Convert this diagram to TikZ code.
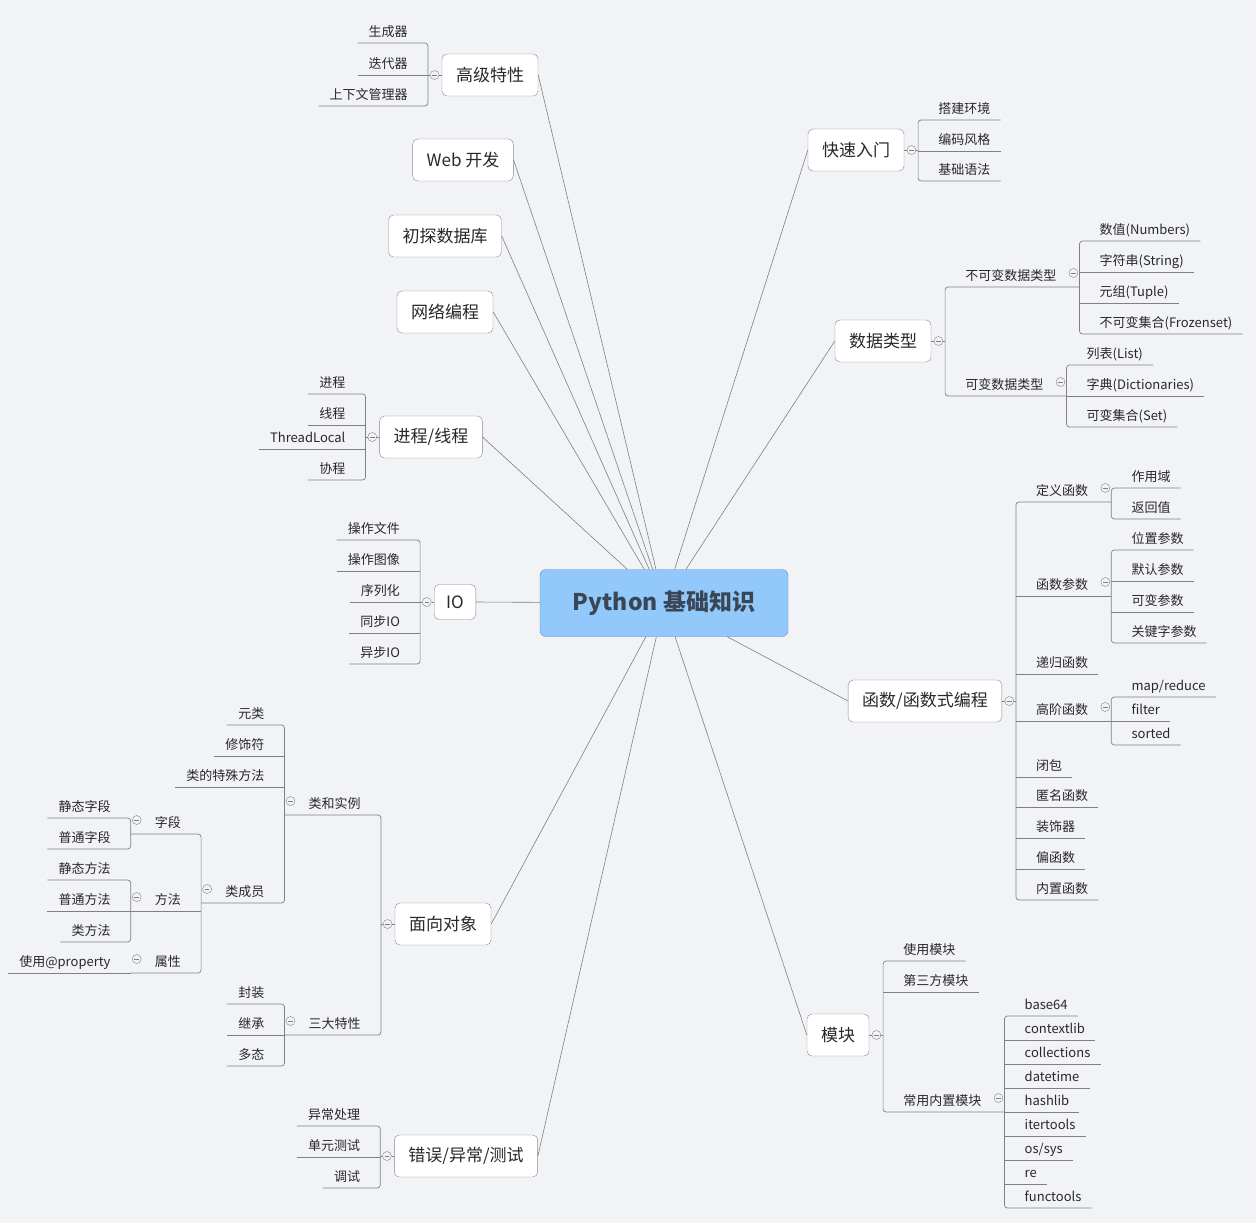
\documentclass[tikz,border=0pt]{standalone}
\usepackage{fontspec}
\setmainfont{Noto Sans CJK SC}
\usetikzlibrary{positioning}
\definecolor{bgcol}{RGB}{242,243,247}
\definecolor{linecol}{RGB}{128,128,128}
\definecolor{boxline}{RGB}{138,138,138}
\definecolor{rootfill}{RGB}{146,201,250}
\definecolor{rootline}{RGB}{98,138,178}
\definecolor{roottext}{RGB}{58,70,86}
\definecolor{txt}{RGB}{40,40,40}

\begin{document}
\begin{tikzpicture}[x=1pt,y=-1pt,
  root/.style={rectangle,rounded corners=6pt,draw=rootline,fill=rootfill,text=roottext,
    font=\fontsize{23}{26}\selectfont\bfseries,minimum width=248pt,minimum height=67pt},
  topic/.style={rectangle,rounded corners=5pt,draw=boxline,fill=white,text=txt,
    font=\fontsize{17}{20}\selectfont,minimum height=42pt,inner xsep=14pt},
  coll/.style={circle,draw=linecol,fill=bgcol,minimum size=9pt,inner sep=0pt,
    path picture={\draw[linecol,line width=0.5pt] ([xshift=-2.3pt]path picture bounding box.center) -- ([xshift=2.3pt]path picture bounding box.center);}},
  leafR/.style={anchor=south west,inner xsep=10pt,inner ysep=3.5pt,text height=10pt,text depth=3pt,text=txt,
    font=\fontsize{13}{15}\selectfont,execute at begin node=\hspace*{10pt}},
  leafL/.style={anchor=south east,inner xsep=11pt,inner ysep=3.5pt,text height=10pt,text depth=3pt,text=txt,
    font=\fontsize{13}{15}\selectfont,execute at end node=\hspace*{9pt}},
  subR/.style={leafR,execute at end node=\hspace*{13pt}},
  subL/.style={leafL,execute at begin node=\hspace*{13pt}},
  conn/.style={draw=linecol,line width=0.7pt,rounded corners=3pt},
  link/.style={draw=linecol,line width=0.6pt}]

\fill[bgcol] (0,0) rectangle (1256,1223);
\useasboundingbox (0,0) rectangle (1256,1223);

\node[root] (root) at (664,603) {Python 基础知识};

\node[topic] (hi) at (490,75) {高级特性};
\node[topic] (web) at (463,160) {Web 开发};
\node[topic] (db) at (445,236) {初探数据库};
\node[topic] (net) at (445,312) {网络编程};
\node[topic] (proc) at (431,437) {进程/线程};
\node[topic,minimum height=35pt,inner xsep=12pt] (io) at (455,602) {IO};
\node[topic] (oop) at (443,924) {面向对象};
\node[topic] (err) at (466,1156) {错误/异常/测试};
\node[topic] (qs) at (856,150) {快速入门};
\node[topic] (dt) at (883,341) {数据类型};
\node[topic] (fn) at (925,701) {函数/函数式编程};
\node[topic] (mod) at (838,1035) {模块};

\draw[link] (root) -- (hi.east);
\draw[link] (root) -- (web.east);
\draw[link] (root) -- (db.east);
\draw[link] (root) -- (net.east);
\draw[link] (root) -- (proc.east);
\draw[link] (root) -- (io.east);
\draw[link] (root) -- (oop.east);
\draw[link] (root) -- (err.east);
\draw[link] (root) -- (qs.west);
\draw[link] (root) -- (dt.west);
\draw[link] (root) -- (fn.west);
\draw[link] (root) -- (mod.west);

\node[coll,left=2.5pt of hi] (hic) {};
\coordinate (hib) at ([xshift=-2pt]hic.west);
\node[leafL] (gen) at (hib |- 0,43) {生成器};
\node[leafL] (iter) at (hib |- 0,75) {迭代器};
\node[leafL] (ctx) at (hib |- 0,106) {上下文管理器};
\draw[conn] (hi) -- (hic) -- (hib);
\draw[conn] (gen.south west) -- (gen.south east) -- (ctx.south east) -- (ctx.south west);
\draw[conn] (iter.south west) -- (iter.south east);

\node[coll,left=2.5pt of proc] (procc) {};
\coordinate (procb) at ([xshift=-2pt]procc.west);
\node[leafL] (p1) at (procb |- 0,394) {进程};
\node[leafL] (p2) at (procb |- 0,425) {线程};
\node[leafL] (p3) at (procb |- 0,449) {ThreadLocal};
\node[leafL] (p4) at (procb |- 0,480) {协程};
\draw[conn] (proc) -- (procc) -- (procb);
\draw[conn] (p1.south west) -- (p1.south east) -- (p4.south east) -- (p4.south west);
\draw[conn] (p2.south west) -- (p2.south east) (p3.south west) -- (p3.south east);

\node[coll,left=2.5pt of io] (ioc) {};
\coordinate (iob) at ([xshift=-2pt]ioc.west);
\node[leafL] (io1) at (iob |- 0,540) {操作文件};
\node[leafL] (io2) at (iob |- 0,571) {操作图像};
\node[leafL] (io3) at (iob |- 0,602) {序列化};
\node[leafL] (io4) at (iob |- 0,633) {同步IO};
\node[leafL] (io5) at (iob |- 0,664) {异步IO};
\draw[conn] (io) -- (ioc) -- (iob);
\draw[conn] (io1.south west) -- (io1.south east) -- (io5.south east) -- (io5.south west);
\draw[conn] (io2.south west) -- (io2.south east) (io3.south west) -- (io3.south east)
  (io4.south west) -- (io4.south east);

\node[coll,left=2.5pt of oop] (oopc) {};
\coordinate (oopb) at ([xshift=-2pt]oopc.west);
\node[subL] (cls) at (oopb |- 0,815) {类和实例};
\node[coll] (clsc) at ([xshift=6pt,yshift=14pt]cls.south west) {};
\node[leafL] (meta) at (cls.south west |- 0,725) {元类};
\node[leafL] (deco) at (cls.south west |- 0,756) {修饰符};
\node[leafL] (spec) at (cls.south west |- 0,787) {类的特殊方法};
\node[subL] (mem) at (cls.south west |- 0,903) {类成员};
\node[coll] (memc) at ([xshift=6pt,yshift=14pt]mem.south west) {};
\node[subL] (fld) at (mem.south west |- 0,834) {字段};
\node[coll] (fldc) at ([xshift=6pt,yshift=14pt]fld.south west) {};
\node[leafL] (f1) at (fld.south west |- 0,818) {静态字段};
\node[leafL] (f2) at (fld.south west |- 0,849) {普通字段};
\node[subL] (mth) at (mem.south west |- 0,911) {方法};
\node[coll] (mthc) at ([xshift=6pt,yshift=14pt]mth.south west) {};
\node[leafL] (m1) at (mth.south west |- 0,880) {静态方法};
\node[leafL] (m2) at (mth.south west |- 0,911) {普通方法};
\node[leafL] (m3) at (mth.south west |- 0,942) {类方法};
\node[subL] (prop) at (mem.south west |- 0,973) {属性};
\node[coll] (propc) at ([xshift=6pt,yshift=14pt]prop.south west) {};
\node[leafL] (pr1) at (prop.south west |- 0,973) {使用@property};
\node[subL] (tri) at (oopb |- 0,1035) {三大特性};
\node[coll] (tric) at ([xshift=6pt,yshift=14pt]tri.south west) {};
\node[leafL] (t1) at (tri.south west |- 0,1004) {封装};
\node[leafL] (t2) at (tri.south west |- 0,1035) {继承};
\node[leafL] (t3) at (tri.south west |- 0,1066) {多态};
\draw[conn] (oop) -- (oopc) -- (oopb);
\draw[conn] (cls.south west) -- (cls.south east) -- (tri.south east) -- (tri.south west);
\draw[conn] (meta.south west) -- (meta.south east) -- (mem.south east) -- (mem.south west);
\draw[conn] (deco.south west) -- (deco.south east) (spec.south west) -- (spec.south east);
\draw[conn] (fld.south west) -- (fld.south east) -- (prop.south east) -- (prop.south west);
\draw[conn] (mth.south west) -- (mth.south east);
\draw[conn] (f1.south west) -- (f1.south east) -- (f2.south east) -- (f2.south west);
\draw[conn] (m1.south west) -- (m1.south east) -- (m3.south east) -- (m3.south west);
\draw[conn] (m2.south west) -- (m2.south east);
\draw[conn] (pr1.south west) -- (pr1.south east);
\draw[conn] (t1.south west) -- (t1.south east) -- (t3.south east) -- (t3.south west);
\draw[conn] (t2.south west) -- (t2.south east);

\node[coll,left=2.5pt of err] (errc) {};
\coordinate (errb) at ([xshift=-2pt]errc.west);
\node[leafL] (e1) at (errb |- 0,1126) {异常处理};
\node[leafL] (e2) at (errb |- 0,1157) {单元测试};
\node[leafL] (e3) at (errb |- 0,1188) {调试};
\draw[conn] (err) -- (errc) -- (errb);
\draw[conn] (e1.south west) -- (e1.south east) -- (e3.south east) -- (e3.south west);
\draw[conn] (e2.south west) -- (e2.south east);

\node[coll,right=2.5pt of qs] (qsc) {};
\coordinate (qsb) at ([xshift=2pt]qsc.east);
\node[leafR] (q1) at (qsb |- 0,120) {搭建环境};
\node[leafR] (q2) at (qsb |- 0,151) {编码风格};
\node[leafR] (q3) at (qsb |- 0,181) {基础语法};
\draw[conn] (qs) -- (qsc) -- (qsb);
\draw[conn] (q1.south east) -- (q1.south west) -- (q3.south west) -- (q3.south east);
\draw[conn] (q2.south west) -- (q2.south east);

\node[coll,right=2.5pt of dt] (dtc) {};
\coordinate (dtb) at ([xshift=2pt]dtc.east);
\node[subR] (imm) at (dtb |- 0,287) {不可变数据类型};
\node[coll] (immc) at ([xshift=-6pt,yshift=14pt]imm.south east) {};
\node[leafR] (d1) at (imm.south east |- 0,241) {数值(Numbers)};
\node[leafR] (d2) at (imm.south east |- 0,272) {字符串(String)};
\node[leafR] (d3) at (imm.south east |- 0,303) {元组(Tuple)};
\node[leafR] (d4) at (imm.south east |- 0,334) {不可变集合(Frozenset)};
\node[subR] (mut) at (dtb |- 0,396) {可变数据类型};
\node[coll] (mutc) at ([xshift=-6pt,yshift=14pt]mut.south east) {};
\node[leafR] (d5) at (mut.south east |- 0,365) {列表(List)};
\node[leafR] (d6) at (mut.south east |- 0,396) {字典(Dictionaries)};
\node[leafR] (d7) at (mut.south east |- 0,427) {可变集合(Set)};
\draw[conn] (dt) -- (dtc) -- (dtb);
\draw[conn] (imm.south east) -- (imm.south west) -- (mut.south west) -- (mut.south east);
\draw[conn] (d1.south east) -- (d1.south west) -- (d4.south west) -- (d4.south east);
\draw[conn] (d2.south west) -- (d2.south east) (d3.south west) -- (d3.south east);
\draw[conn] (d5.south east) -- (d5.south west) -- (d7.south west) -- (d7.south east);
\draw[conn] (d6.south west) -- (d6.south east);

\node[coll,right=2.5pt of fn] (fnc) {};
\coordinate (fnb) at ([xshift=2pt]fnc.east);
\node[subR] (def) at (fnb |- 0,502) {定义函数};
\node[coll] (defc) at ([xshift=-6pt,yshift=14pt]def.south east) {};
\node[leafR] (s1) at (def.south east |- 0,488) {作用域};
\node[leafR] (s2) at (def.south east |- 0,519) {返回值};
\node[subR] (arg) at (fnb |- 0,596) {函数参数};
\node[coll] (argc) at ([xshift=-6pt,yshift=14pt]arg.south east) {};
\node[leafR] (a1) at (arg.south east |- 0,550) {位置参数};
\node[leafR] (a2) at (arg.south east |- 0,581) {默认参数};
\node[leafR] (a3) at (arg.south east |- 0,612) {可变参数};
\node[leafR] (a4) at (arg.south east |- 0,643) {关键字参数};
\node[leafR] (rec) at (fnb |- 0,674) {递归函数};
\node[subR] (hof) at (fnb |- 0,721) {高阶函数};
\node[coll] (hofc) at ([xshift=-6pt,yshift=14pt]hof.south east) {};
\node[leafR] (h1) at (hof.south east |- 0,697) {map/reduce};
\node[leafR] (h2) at (hof.south east |- 0,721) {filter};
\node[leafR] (h3) at (hof.south east |- 0,745) {sorted};
\node[leafR] (clo) at (fnb |- 0,777) {闭包};
\node[leafR] (lam) at (fnb |- 0,807) {匿名函数};
\node[leafR] (dec) at (fnb |- 0,838) {装饰器};
\node[leafR] (par) at (fnb |- 0,869) {偏函数};
\node[leafR] (bif) at (fnb |- 0,900) {内置函数};
\draw[conn] (fn) -- (fnc) -- (fnb);
\draw[conn] (def.south east) -- (def.south west) -- (bif.south west) -- (bif.south east);
\draw[conn] (arg.south west) -- (arg.south east) (rec.south west) -- (rec.south east)
  (hof.south west) -- (hof.south east) (clo.south west) -- (clo.south east)
  (lam.south west) -- (lam.south east) (dec.south west) -- (dec.south east)
  (par.south west) -- (par.south east);
\draw[conn] (s1.south east) -- (s1.south west) -- (s2.south west) -- (s2.south east);
\draw[conn] (a1.south east) -- (a1.south west) -- (a4.south west) -- (a4.south east);
\draw[conn] (a2.south west) -- (a2.south east) (a3.south west) -- (a3.south east);
\draw[conn] (h1.south east) -- (h1.south west) -- (h3.south west) -- (h3.south east);
\draw[conn] (h2.south west) -- (h2.south east);

\node[coll,right=2.5pt of mod] (modc) {};
\coordinate (modb) at ([xshift=2pt]modc.east);
\node[leafR] (use) at (modb |- 0,961) {使用模块};
\node[leafR] (third) at (modb |- 0,992) {第三方模块};
\node[subR] (std) at (modb |- 0,1112) {常用内置模块};
\node[coll] (stdc) at ([xshift=-6pt,yshift=14pt]std.south east) {};
\node[leafR] (b1) at (std.south east |- 0,1016) {base64};
\node[leafR] (b2) at (std.south east |- 0,1040) {contextlib};
\node[leafR] (b3) at (std.south east |- 0,1064) {collections};
\node[leafR] (b4) at (std.south east |- 0,1088) {datetime};
\node[leafR] (b5) at (std.south east |- 0,1112) {hashlib};
\node[leafR] (b6) at (std.south east |- 0,1136) {itertools};
\node[leafR] (b7) at (std.south east |- 0,1160) {os/sys};
\node[leafR] (b8) at (std.south east |- 0,1184) {re};
\node[leafR] (b9) at (std.south east |- 0,1208) {functools};
\draw[conn] (mod) -- (modc) -- (modb);
\draw[conn] (use.south east) -- (use.south west) -- (std.south west) -- (std.south east);
\draw[conn] (third.south west) -- (third.south east);
\draw[conn] (b1.south east) -- (b1.south west) -- (b9.south west) -- (b9.south east);
\draw[conn] (b2.south west) -- (b2.south east) (b3.south west) -- (b3.south east)
  (b4.south west) -- (b4.south east) (b5.south west) -- (b5.south east)
  (b6.south west) -- (b6.south east) (b7.south west) -- (b7.south east)
  (b8.south west) -- (b8.south east);
\end{tikzpicture}
\end{document}
